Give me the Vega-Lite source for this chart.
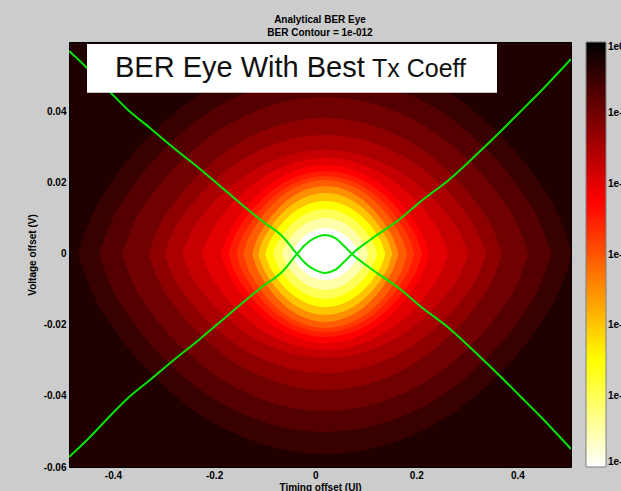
{
  "$schema": "https://vega.github.io/schema/vega-lite/v6.json",
  "width": 502,
  "height": 425,
  "autosize": {"type": "none"},
  "padding": {"left": 69, "top": 42, "right": 50, "bottom": 24},
  "background": "#cccccc",
  "config": {"view": {"fill": "#210000", "stroke": "#000000", "strokeWidth": 1}, "font": "Liberation Sans"},
  "title": {"text": ["Analytical BER Eye", "BER Contour = 1e-012"], "font": "Liberation Sans", "fontSize": 10, "fontWeight": "bold", "color": "#000000", "lineHeight": 13, "offset": 4, "anchor": "middle", "frame": "group"},
  "datasets": {
    "levels": [
      {"k":"A","b":0.1},{"k":"B","b":0.031623},{"k":"C","b":0.01},{"k":"D","b":0.0031623},{"k":"E","b":0.001},{"k":"F","b":0.00031623},{"k":"G","b":0.0001},{"k":"H","b":0.000031623},{"k":"I","b":0.00001},{"k":"J","b":0.0000031623},{"k":"K","b":7.943e-7},{"k":"L","b":1e-7},{"k":"M","b":1e-8},{"k":"N","b":1e-9},{"k":"O","b":1e-10},{"k":"P","b":1e-11},{"k":"Q","b":1e-12}
    ],
    "bands": [
      {"k":"A","t":-0.4686,"v":0,"l":0},{"k":"A","t":-0.4442,"v":0.00983,"l":-0.00983},{"k":"A","t":-0.3953,"v":0.02154,"l":-0.02154},{"k":"A","t":-0.2976,"v":0.03732,"l":-0.03732},{"k":"A","t":-0.151,"v":0.05107,"l":-0.05107},{"k":"A","t":0.02,"v":0.05633,"l":-0.05633},{"k":"A","t":0.191,"v":0.05107,"l":-0.05107},{"k":"A","t":0.3376,"v":0.03732,"l":-0.03732},{"k":"A","t":0.4353,"v":0.02154,"l":-0.02154},{"k":"A","t":0.4842,"v":0.00983,"l":-0.00983},{"k":"A","t":0.5086,"v":0,"l":0},
      {"k":"B","t":-0.4271,"v":0,"l":0},{"k":"B","t":-0.4047,"v":0.00875,"l":-0.00875},{"k":"B","t":-0.36,"v":0.01917,"l":-0.01917},{"k":"B","t":-0.2706,"v":0.03321,"l":-0.03321},{"k":"B","t":-0.1365,"v":0.04545,"l":-0.04545},{"k":"B","t":0.02,"v":0.05013,"l":-0.05013},{"k":"B","t":0.1765,"v":0.04545,"l":-0.04545},{"k":"B","t":0.3106,"v":0.03321,"l":-0.03321},{"k":"B","t":0.4,"v":0.01917,"l":-0.01917},{"k":"B","t":0.4447,"v":0.00875,"l":-0.00875},{"k":"B","t":0.4671,"v":0,"l":0},
      {"k":"C","t":-0.3816,"v":0,"l":0},{"k":"C","t":-0.3615,"v":0.00772,"l":-0.00772},{"k":"C","t":-0.3214,"v":0.01691,"l":-0.01691},{"k":"C","t":-0.241,"v":0.0293,"l":-0.0293},{"k":"C","t":-0.1206,"v":0.04009,"l":-0.04009},{"k":"C","t":0.02,"v":0.04422,"l":-0.04422},{"k":"C","t":0.1606,"v":0.04009,"l":-0.04009},{"k":"C","t":0.281,"v":0.0293,"l":-0.0293},{"k":"C","t":0.3614,"v":0.01691,"l":-0.01691},{"k":"C","t":0.4015,"v":0.00772,"l":-0.00772},{"k":"C","t":0.4216,"v":0,"l":0},
      {"k":"D","t":-0.3301,"v":0,"l":0},{"k":"D","t":-0.3126,"v":0.00668,"l":-0.00668},{"k":"D","t":-0.2776,"v":0.01465,"l":-0.01465},{"k":"D","t":-0.2076,"v":0.02537,"l":-0.02537},{"k":"D","t":-0.1025,"v":0.03472,"l":-0.03472},{"k":"D","t":0.02,"v":0.0383,"l":-0.0383},{"k":"D","t":0.1425,"v":0.03472,"l":-0.03472},{"k":"D","t":0.2476,"v":0.02537,"l":-0.02537},{"k":"D","t":0.3176,"v":0.01465,"l":-0.01465},{"k":"D","t":0.3526,"v":0.00668,"l":-0.00668},{"k":"D","t":0.3701,"v":0,"l":0},
      {"k":"E","t":-0.2985,"v":0,"l":0},{"k":"E","t":-0.2826,"v":0.00585,"l":-0.00585},{"k":"E","t":-0.2507,"v":0.01282,"l":-0.01282},{"k":"E","t":-0.187,"v":0.02221,"l":-0.02221},{"k":"E","t":-0.0915,"v":0.03039,"l":-0.03039},{"k":"E","t":0.02,"v":0.03352,"l":-0.03352},{"k":"E","t":0.1315,"v":0.03039,"l":-0.03039},{"k":"E","t":0.227,"v":0.02221,"l":-0.02221},{"k":"E","t":0.2907,"v":0.01282,"l":-0.01282},{"k":"E","t":0.3226,"v":0.00585,"l":-0.00585},{"k":"E","t":0.3385,"v":0,"l":0},
      {"k":"F","t":-0.2629,"v":0,"l":0},{"k":"F","t":-0.2488,"v":0.00511,"l":-0.00511},{"k":"F","t":-0.2205,"v":0.0112,"l":-0.0112},{"k":"F","t":-0.1639,"v":0.0194,"l":-0.0194},{"k":"F","t":-0.079,"v":0.02655,"l":-0.02655},{"k":"F","t":0.02,"v":0.02929,"l":-0.02929},{"k":"F","t":0.119,"v":0.02655,"l":-0.02655},{"k":"F","t":0.2039,"v":0.0194,"l":-0.0194},{"k":"F","t":0.2605,"v":0.0112,"l":-0.0112},{"k":"F","t":0.2888,"v":0.00511,"l":-0.00511},{"k":"F","t":0.3029,"v":0,"l":0},
      {"k":"G","t":-0.2233,"v":0,"l":0},{"k":"G","t":-0.2111,"v":0.00472,"l":-0.00472},{"k":"G","t":-0.1868,"v":0.01034,"l":-0.01034},{"k":"G","t":-0.1381,"v":0.01791,"l":-0.01791},{"k":"G","t":-0.0652,"v":0.02451,"l":-0.02451},{"k":"G","t":0.02,"v":0.02704,"l":-0.02704},{"k":"G","t":0.1052,"v":0.02451,"l":-0.02451},{"k":"G","t":0.1781,"v":0.01791,"l":-0.01791},{"k":"G","t":0.2268,"v":0.01034,"l":-0.01034},{"k":"G","t":0.2511,"v":0.00472,"l":-0.00472},{"k":"G","t":0.2633,"v":0,"l":0},
      {"k":"H","t":-0.1857,"v":0,"l":0},{"k":"H","t":-0.1754,"v":0.00437,"l":-0.00437},{"k":"H","t":-0.1548,"v":0.00959,"l":-0.00959},{"k":"H","t":-0.1137,"v":0.01661,"l":-0.01661},{"k":"H","t":-0.052,"v":0.02273,"l":-0.02273},{"k":"H","t":0.02,"v":0.02507,"l":-0.02507},{"k":"H","t":0.092,"v":0.02273,"l":-0.02273},{"k":"H","t":0.1537,"v":0.01661,"l":-0.01661},{"k":"H","t":0.1948,"v":0.00959,"l":-0.00959},{"k":"H","t":0.2154,"v":0.00437,"l":-0.00437},{"k":"H","t":0.2257,"v":0,"l":0},
      {"k":"I","t":-0.1719,"v":0,"l":0},{"k":"I","t":-0.1623,"v":0.00408,"l":-0.00408},{"k":"I","t":-0.1431,"v":0.00894,"l":-0.00894},{"k":"I","t":-0.1047,"v":0.01549,"l":-0.01549},{"k":"I","t":-0.0472,"v":0.02119,"l":-0.02119},{"k":"I","t":0.02,"v":0.02338,"l":-0.02338},{"k":"I","t":0.0872,"v":0.02119,"l":-0.02119},{"k":"I","t":0.1447,"v":0.01549,"l":-0.01549},{"k":"I","t":0.1831,"v":0.00894,"l":-0.00894},{"k":"I","t":0.2023,"v":0.00408,"l":-0.00408},{"k":"I","t":0.2119,"v":0,"l":0},
      {"k":"J","t":-0.1561,"v":0,"l":0},{"k":"J","t":-0.1473,"v":0.00383,"l":-0.00383},{"k":"J","t":-0.1297,"v":0.0084,"l":-0.0084},{"k":"J","t":-0.0945,"v":0.01456,"l":-0.01456},{"k":"J","t":-0.0416,"v":0.01992,"l":-0.01992},{"k":"J","t":0.02,"v":0.02197,"l":-0.02197},{"k":"J","t":0.0816,"v":0.01992,"l":-0.01992},{"k":"J","t":0.1345,"v":0.01456,"l":-0.01456},{"k":"J","t":0.1697,"v":0.0084,"l":-0.0084},{"k":"J","t":0.1873,"v":0.00383,"l":-0.00383},{"k":"J","t":0.1961,"v":0,"l":0},
      {"k":"K","t":-0.1422,"v":0,"l":0},{"k":"K","t":-0.1341,"v":0.00364,"l":-0.00364},{"k":"K","t":-0.1179,"v":0.00797,"l":-0.00797},{"k":"K","t":-0.0854,"v":0.01381,"l":-0.01381},{"k":"K","t":-0.0368,"v":0.01889,"l":-0.01889},{"k":"K","t":0.02,"v":0.02084,"l":-0.02084},{"k":"K","t":0.0768,"v":0.01889,"l":-0.01889},{"k":"K","t":0.1254,"v":0.01381,"l":-0.01381},{"k":"K","t":0.1579,"v":0.00797,"l":-0.00797},{"k":"K","t":0.1741,"v":0.00364,"l":-0.00364},{"k":"K","t":0.1822,"v":0,"l":0},
      {"k":"L","t":-0.1244,"v":0,"l":0},{"k":"L","t":-0.1172,"v":0.00334,"l":-0.00334},{"k":"L","t":-0.1027,"v":0.00732,"l":-0.00732},{"k":"L","t":-0.0739,"v":0.01269,"l":-0.01269},{"k":"L","t":-0.0305,"v":0.01736,"l":-0.01736},{"k":"L","t":0.02,"v":0.01915,"l":-0.01915},{"k":"L","t":0.0705,"v":0.01736,"l":-0.01736},{"k":"L","t":0.1139,"v":0.01269,"l":-0.01269},{"k":"L","t":0.1427,"v":0.00732,"l":-0.00732},{"k":"L","t":0.1572,"v":0.00334,"l":-0.00334},{"k":"L","t":0.1644,"v":0,"l":0},
      {"k":"M","t":-0.1125,"v":0,"l":0},{"k":"M","t":-0.1059,"v":0.003,"l":-0.003},{"k":"M","t":-0.0926,"v":0.00657,"l":-0.00657},{"k":"M","t":-0.0661,"v":0.01138,"l":-0.01138},{"k":"M","t":-0.0264,"v":0.01558,"l":-0.01558},{"k":"M","t":0.02,"v":0.01718,"l":-0.01718},{"k":"M","t":0.0664,"v":0.01558,"l":-0.01558},{"k":"M","t":0.1061,"v":0.01138,"l":-0.01138},{"k":"M","t":0.1326,"v":0.00657,"l":-0.00657},{"k":"M","t":0.1459,"v":0.003,"l":-0.003},{"k":"M","t":0.1525,"v":0,"l":0},
      {"k":"N","t":-0.0987,"v":0,"l":0},{"k":"N","t":-0.0928,"v":0.00261,"l":-0.00261},{"k":"N","t":-0.0809,"v":0.00571,"l":-0.00571},{"k":"N","t":-0.0572,"v":0.00989,"l":-0.00989},{"k":"N","t":-0.0215,"v":0.01354,"l":-0.01354},{"k":"N","t":0.02,"v":0.01493,"l":-0.01493},{"k":"N","t":0.0615,"v":0.01354,"l":-0.01354},{"k":"N","t":0.0972,"v":0.00989,"l":-0.00989},{"k":"N","t":0.1209,"v":0.00571,"l":-0.00571},{"k":"N","t":0.1328,"v":0.00261,"l":-0.00261},{"k":"N","t":0.1387,"v":0,"l":0},
      {"k":"O","t":-0.0829,"v":0,"l":0},{"k":"O","t":-0.0778,"v":0.00221,"l":-0.00221},{"k":"O","t":-0.0675,"v":0.00485,"l":-0.00485},{"k":"O","t":-0.0469,"v":0.00839,"l":-0.00839},{"k":"O","t":-0.016,"v":0.01149,"l":-0.01149},{"k":"O","t":0.02,"v":0.01267,"l":-0.01267},{"k":"O","t":0.056,"v":0.01149,"l":-0.01149},{"k":"O","t":0.0869,"v":0.00839,"l":-0.00839},{"k":"O","t":0.1075,"v":0.00485,"l":-0.00485},{"k":"O","t":0.1178,"v":0.00221,"l":-0.00221},{"k":"O","t":0.1229,"v":0,"l":0},
      {"k":"P","t":-0.0651,"v":0,"l":0},{"k":"P","t":-0.0608,"v":0.00177,"l":-0.00177},{"k":"P","t":-0.0523,"v":0.00388,"l":-0.00388},{"k":"P","t":-0.0353,"v":0.00672,"l":-0.00672},{"k":"P","t":-0.0098,"v":0.00919,"l":-0.00919},{"k":"P","t":0.02,"v":0.01014,"l":-0.01014},{"k":"P","t":0.0498,"v":0.00919,"l":-0.00919},{"k":"P","t":0.0753,"v":0.00672,"l":-0.00672},{"k":"P","t":0.0923,"v":0.00388,"l":-0.00388},{"k":"P","t":0.1008,"v":0.00177,"l":-0.00177},{"k":"P","t":0.1051,"v":0,"l":0},
      {"k":"Q","t":-0.0453,"v":0,"l":0},{"k":"Q","t":-0.042,"v":0.00128,"l":-0.00128},{"k":"Q","t":-0.0355,"v":0.0028,"l":-0.0028},{"k":"Q","t":-0.0224,"v":0.00485,"l":-0.00485},{"k":"Q","t":-0.0029,"v":0.00664,"l":-0.00664},{"k":"Q","t":0.02,"v":0.00732,"l":-0.00732},{"k":"Q","t":0.0429,"v":0.00664,"l":-0.00664},{"k":"Q","t":0.0624,"v":0.00485,"l":-0.00485},{"k":"Q","t":0.0755,"v":0.0028,"l":-0.0028},{"k":"Q","t":0.082,"v":0.00128,"l":-0.00128},{"k":"Q","t":0.0853,"v":0,"l":0}
    ],
    "contour": [
      {"s":"V","t":-0.487,"v":0.05718},{"s":"V","t":-0.4514,"v":0.05239},{"s":"V","t":-0.4059,"v":0.04563},{"s":"V","t":-0.3723,"v":0.04084},{"s":"V","t":-0.3268,"v":0.03549},{"s":"V","t":-0.2774,"v":0.02957},{"s":"V","t":-0.2279,"v":0.02394},{"s":"V","t":-0.1883,"v":0.01915},{"s":"V","t":-0.1488,"v":0.01436},{"s":"V","t":-0.1052,"v":0.00929},{"s":"V","t":-0.0637,"v":0.00479},{"s":"V","t":-0.036,"v":0},{"s":"V","t":-0.0202,"v":-0.00253},{"s":"V","t":-0.0004,"v":-0.00451},{"s":"V","t":0.0194,"v":-0.00535},{"s":"V","t":0.0392,"v":-0.00451},{"s":"V","t":0.059,"v":-0.00197},{"s":"V","t":0.0728,"v":0},{"s":"V","t":0.1084,"v":0.00394},{"s":"V","t":0.1677,"v":0.00986},{"s":"V","t":0.2073,"v":0.01465},{"s":"V","t":0.2666,"v":0.02112},{"s":"V","t":0.3161,"v":0.0276},{"s":"V","t":0.3655,"v":0.03436},{"s":"V","t":0.4051,"v":0.03999},{"s":"V","t":0.4447,"v":0.04563},{"s":"V","t":0.506,"v":0.05492},
      {"s":"A","t":-0.487,"v":-0.05718},{"s":"A","t":-0.4514,"v":-0.05239},{"s":"A","t":-0.4059,"v":-0.04563},{"s":"A","t":-0.3723,"v":-0.04084},{"s":"A","t":-0.3268,"v":-0.03549},{"s":"A","t":-0.2774,"v":-0.02957},{"s":"A","t":-0.2279,"v":-0.02394},{"s":"A","t":-0.1883,"v":-0.01915},{"s":"A","t":-0.1488,"v":-0.01436},{"s":"A","t":-0.1052,"v":-0.00929},{"s":"A","t":-0.0637,"v":-0.00479},{"s":"A","t":-0.036,"v":0},{"s":"A","t":-0.0202,"v":0.00253},{"s":"A","t":-0.0004,"v":0.00451},{"s":"A","t":0.0194,"v":0.00535},{"s":"A","t":0.0392,"v":0.00451},{"s":"A","t":0.059,"v":0.00197},{"s":"A","t":0.0728,"v":0},{"s":"A","t":0.1084,"v":-0.00394},{"s":"A","t":0.1677,"v":-0.00986},{"s":"A","t":0.2073,"v":-0.01465},{"s":"A","t":0.2666,"v":-0.02112},{"s":"A","t":0.3161,"v":-0.0276},{"s":"A","t":0.3655,"v":-0.03436},{"s":"A","t":0.4051,"v":-0.03999},{"s":"A","t":0.4447,"v":-0.04563},{"s":"A","t":0.506,"v":-0.05492}
    ]
  },
  "encoding": {
    "x": {"field": "t", "type": "quantitative", "scale": {"domain": [-0.487, 0.506], "nice": false, "zero": false},
      "axis": {"title": "Timing offset (UI)", "values": [-0.4, -0.2, 0, 0.2, 0.4], "labelExpr": "'' + datum.value", "ticks": false, "domain": false, "grid": false, "labelFont": "Liberation Sans", "labelFontSize": 10, "labelFontWeight": "bold", "labelColor": "#000000", "labelPadding": 3, "titleFont": "Liberation Sans", "titleFontSize": 10, "titleFontWeight": "bold", "titleColor": "#000000", "titlePadding": 2}},
    "y": {"field": "v", "type": "quantitative", "scale": {"domain": [-0.06, 0.0597], "nice": false, "zero": false},
      "axis": {"title": "Voltage offset (V)", "values": [-0.06, -0.04, -0.02, 0, 0.02, 0.04], "labelExpr": "'' + datum.value", "ticks": false, "domain": false, "grid": false, "labelFont": "Liberation Sans", "labelFontSize": 10, "labelFontWeight": "bold", "labelColor": "#000000", "labelPadding": 3, "titleFont": "Liberation Sans", "titleFontSize": 10, "titleFontWeight": "bold", "titleColor": "#000000", "titlePadding": 6}}
  },
  "layer": [
    {
      "data": {"name": "bands"},
      "transform": [{"lookup": "k", "from": {"data": {"name": "levels"}, "key": "k", "fields": ["b"]}}],
      "mark": {"type": "area", "interpolate": "monotone", "clip": true},
      "encoding": {
        "y2": {"field": "l"},
        "detail": {"field": "k"},
        "color": {"field": "b", "type": "quantitative",
          "scale": {"type": "log", "domain": [1e-12, 1e-9, 3.1623e-5, 1], "range": ["#ffffff", "#ffff00", "#ff0000", "#000000"], "interpolate": "rgb"},
          "legend": {"type": "gradient", "direction": "vertical", "orient": "none", "legendX": 517, "legendY": 0, "gradientLength": 425, "gradientThickness": 20, "title": null, "padding": 0,
            "values": [1e-12, 1e-10, 1e-8, 1e-6, 1e-4, 1e-2, 1],
            "labelExpr": "datum.value >= 1 ? '1e0' : '1e-0' + (round(-log(datum.value)/LN10) < 10 ? '0' : '') + round(-log(datum.value)/LN10)",
            "labelFont": "Liberation Sans", "labelFontSize": 10, "labelFontWeight": "bold", "labelColor": "#000000", "labelOffset": 2, "labelOverlap": false,
            "gradientStrokeColor": "#808080", "gradientStrokeWidth": 1,
            "encoding": {"labels": {"update": {"baseline": {"value": "middle"}}}}}}
      }
    },
    {
      "data": {"name": "contour"},
      "mark": {"type": "line", "interpolate": "monotone", "stroke": "#00e600", "strokeWidth": 2, "clip": true},
      "encoding": {
        "detail": {"field": "s"}
      }
    },
    {
      "data": {"values": [{"t": -0.4514, "t2": 0.3596, "v": 0.05915, "v2": 0.04543}]},
      "mark": {"type": "rect", "fill": "#ffffff"},
      "encoding": {
        "x2": {"field": "t2"},
        "y2": {"field": "v2"}
      }
    },
    {
      "data": {"values": [{"t": -0.396, "v": 0.04977, "label": "BER Eye With Best"}]},
      "mark": {"type": "text", "align": "left", "baseline": "alphabetic", "font": "Liberation Sans", "fontSize": 29, "fill": "#111111"},
      "encoding": {
        "text": {"field": "label"}
      }
    },
    {
      "data": {"values": [{"t": 0.1124, "v": 0.04977, "label": "Tx Coeff"}]},
      "mark": {"type": "text", "align": "left", "baseline": "alphabetic", "font": "Liberation Sans", "fontSize": 25, "fill": "#111111"},
      "encoding": {
        "text": {"field": "label"}
      }
    }
  ]
}
